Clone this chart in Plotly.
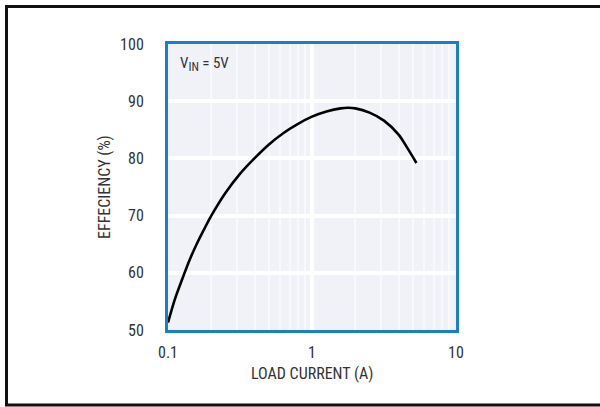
import plotly.graph_objects as go

# Data
load_current = [0.1, 0.112, 0.126, 0.141, 0.158, 0.178, 0.2, 0.251, 0.316, 0.398, 0.5,
                0.631, 0.794, 1.0, 1.26, 1.58, 1.78, 2.0, 2.51, 3.16, 3.98, 4.6, 5.31]
efficiency = [51.3, 55.5, 59.0, 62.2, 65.0, 67.6, 70.0, 74.0, 77.3, 80.0, 82.4,
              84.4, 86.0, 87.3, 88.2, 88.75, 88.85, 88.75, 88.0, 86.6, 84.2, 81.8, 79.2]

x_ticks = [0.1, 1, 10]
x_tick_labels = ["0.1", "1", "10"]
x_minor = [0.2, 0.3, 0.4, 0.5, 0.6, 0.7, 0.8, 0.9, 2, 3, 4, 5, 6, 7, 8, 9]
y_ticks = [50, 60, 70, 80, 90, 100]

FONT = "Liberation Sans Narrow, Roboto Condensed, Roboto, Arial Narrow, sans-serif"
TEXT_COLOR = "#333333"

fig = go.Figure()
fig.add_trace(go.Scatter(
    x=load_current, y=efficiency, mode="lines",
    line=dict(color="black", width=2.6, shape="spline", smoothing=1.0),
    hoverinfo="skip", showlegend=False,
))

L, R, T, B = 168, 144, 44, 77
W, H = 600, 407
pw, ph = W - L - R, H - T - B

def px(xp):
    return (xp - L) / pw

def py(yp):
    return (H - B - yp) / ph

frame_line = dict(color="#111111", width=3)

fig.update_layout(
    width=W, height=H,
    margin=dict(l=L, r=R, t=T, b=B, pad=0),
    paper_bgcolor="white",
    plot_bgcolor="#f1f2f7",
    font=dict(family=FONT, size=16, color=TEXT_COLOR),
    xaxis=dict(
        type="log", range=[-1, 1],
        tickvals=x_ticks, ticktext=x_tick_labels,
        showgrid=True, gridcolor="white", gridwidth=4,
        minor=dict(tickvals=x_minor, showgrid=True, gridcolor="#f8f9fc", gridwidth=1.5, ticks=""),
        showline=True, mirror=True, linecolor="#1a7fc8", linewidth=3,
        ticks="outside", ticklen=6, tickcolor="rgba(0,0,0,0)",
        zeroline=False,
    ),
    yaxis=dict(
        range=[50, 100], tickvals=y_ticks,
        showgrid=True, gridcolor="white", gridwidth=4,
        showline=True, mirror=True, linecolor="#1a7fc8", linewidth=3,
        ticks="outside", ticklen=18, tickcolor="rgba(0,0,0,0)",
        zeroline=False,
    ),
    annotations=[
        dict(text="V<sub><span style='font-size:12px'>IN</span></sub> = 5V",
             xref="paper", yref="paper",
             x=px(178), y=py(64), xanchor="left", yanchor="middle",
             showarrow=False, font=dict(size=15, color=TEXT_COLOR)),
        dict(text="LOAD CURRENT (A)", xref="paper", yref="paper",
             x=0.5, y=py(374), xanchor="center", yanchor="middle",
             showarrow=False, font=dict(size=16, color=TEXT_COLOR)),
        dict(text="EFFECIENCY (%)", xref="paper", yref="paper", textangle=-90,
             x=px(104), y=py(187), xanchor="center", yanchor="middle",
             showarrow=False, font=dict(size=16, color=TEXT_COLOR)),
    ],
    shapes=[
        dict(type="line", xref="paper", yref="paper",
             x0=px(6.5), x1=px(6.5), y0=py(405), y1=py(6.5), line=frame_line, layer="above"),
        dict(type="line", xref="paper", yref="paper",
             x0=px(5), x1=px(600), y0=py(6.5), y1=py(6.5), line=frame_line, layer="above"),
        dict(type="line", xref="paper", yref="paper",
             x0=px(5), x1=px(600), y0=py(405), y1=py(405), line=frame_line, layer="above"),
    ],
)

fig.write_html("out.html")
